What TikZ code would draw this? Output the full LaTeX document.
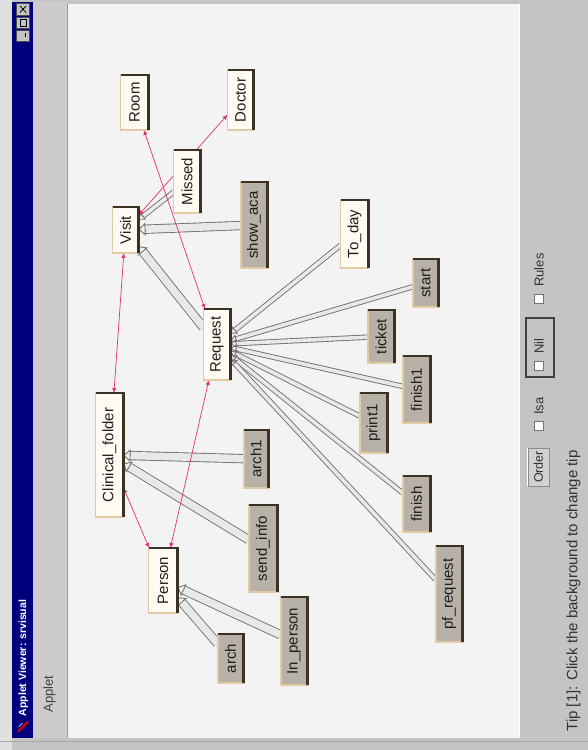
\documentclass[tikz,border=0pt]{standalone}
\usepackage{fontspec}
\setmainfont{Liberation Sans}
\usetikzlibrary{arrows.meta}

\definecolor{winbg}{HTML}{C4C4C4}
\definecolor{titlebar}{HTML}{00007F}
\definecolor{canvasbg}{HTML}{F3F3F3}
\definecolor{classfill}{HTML}{FFFBF2}
\definecolor{methfill}{HTML}{B7B1A8}
\definecolor{boxrim}{HTML}{E2CBA4}
\definecolor{rimdark}{HTML}{3A3222}
\definecolor{linkgray}{HTML}{727272}
\definecolor{linkfill}{HTML}{E9E9E9}
\definecolor{relred}{HTML}{E4336C}
\definecolor{labeltext}{HTML}{1E1E1E}

\pgfdeclarelayer{chrome}
\pgfdeclarelayer{links}
\pgfsetlayers{chrome,links,main}

\begin{document}
\begin{tikzpicture}[x=1pt,y=-1pt,
  box/.style={rotate=90, inner sep=0pt, outer sep=0pt, text=labeltext,
    font=\fontsize{15}{15}\selectfont},
  cls/.style={box, fill=classfill, draw=boxrim, line width=1.6pt},
  mth/.style={box, fill=methfill, draw=boxrim, line width=2pt},
  rim/.style={draw=rimdark, line width=2.4pt},
  isa/.style={draw=linkgray, line width=0.9pt, double=linkfill,
    double distance=3.6pt, -{Triangle[open,length=6pt,width=9pt]}},
  isawide/.style={isa, double distance=7.5pt,
    -{Triangle[open,length=7pt,width=13pt]}},
  rel/.style={draw=relred, line width=0.7pt,
    {Latex[length=5pt,width=4.5pt]}-{Latex[length=5pt,width=4.5pt]}},
  panellabel/.style={rotate=90, inner sep=0pt, text=black!80,
    font=\fontsize{13}{13}\selectfont},
  checkbox/.style={fill=white, draw=black!55, line width=0.8pt},
  winbtn/.style={fill=winbg, draw=black!70, line width=0.6pt}]

% ---------- window frame ----------
\begin{pgfonlayer}{chrome}
  \fill[winbg] (0,0) rectangle (587,750);
  \fill[black!12] (0,0) rectangle (12,750);
  \fill[titlebar] (12,2) rectangle (32,738);
  \fill[black!20] (32,2) rectangle (67,738);
  \fill[canvasbg] (67,4) rectangle (519,738);
  \draw[black!40, line width=0.8pt] (67,4) -- (67,738);
  \draw[white, line width=0.8pt] (519,4) -- (519,738);
  \draw[black!35, line width=1pt] (0,741) -- (587,741);
  % title bar buttons
  \draw[winbtn] (16,3.5) rectangle (29,15);
  \draw[black, line width=0.8pt] (19.5,6) -- (25.5,12.5) (25.5,6) -- (19.5,12.5);
  \draw[winbtn] (16,17) rectangle (29,28.5);
  \draw[black, line width=0.8pt] (19.5,19.5) rectangle (25.5,26);
  \draw[winbtn] (16,30) rectangle (29,41.5);
  \draw[black, line width=1.2pt] (25,33) -- (25,37);
  % application icon
  \draw[red!85!black, line width=2.2pt, line cap=round] (18,731) -- (27,722);
  \draw[white, line width=0.6pt] (18,727) -- (22,723);
\end{pgfonlayer}

\node[rotate=90, text=white, inner sep=0pt,
  font=\bfseries\fontsize{10.5}{10.5}\selectfont] (title) at (23,658)
  {Applet Viewer: srvisual};
\node[rotate=90, inner sep=0pt, text=black!75,
  font=\fontsize{13}{13}\selectfont] (menu) at (49,694) {Applet};

% ---------- control panel ----------
\node[rotate=90, fill=black!18, draw=black!45, line width=0.8pt,
  minimum width=38pt, minimum height=21pt, inner sep=0pt, text=black!80,
  font=\fontsize{12.5}{12.5}\selectfont] (order) at (538,467) {Order};
\draw[white, line width=0.8pt] (order.north west) -- (order.north east);
\node[panellabel] (isa) at (538.5,406) {Isa};
\draw[checkbox] (534,421) rectangle (543,430);
\draw[black!75, line width=2pt] (525,318) rectangle (553,377);
\node[panellabel] (nil) at (538.5,346) {Nil};
\draw[checkbox] (534,361) rectangle (543,370);
\node[panellabel] (rules) at (538.5,270) {Rules};
\draw[checkbox] (534,294) rectangle (543,303);
\node[rotate=90, inner sep=0pt, text=black!80,
  font=\fontsize{15}{15}\selectfont] (tip) at (573,591)
  {Tip [1]: Click the background to change tip};

% ---------- class nodes ----------
\node[cls, minimum width=55pt,  minimum height=28pt] (room)     at (134,102.5) {Room};
\node[cls, minimum width=60pt,  minimum height=26pt] (doctor)   at (240,100)   {Doctor};
\node[cls, minimum width=63pt,  minimum height=27pt] (missed)   at (186.5,181.5) {Missed};
\node[cls, minimum width=46pt,  minimum height=26pt] (visit)    at (125,230)   {Visit};
\node[cls, minimum width=71pt,  minimum height=27pt] (request)  at (216.5,344.5) {Request};
\node[cls, minimum width=68pt,  minimum height=28pt] (today)    at (354,234)   {To\_day};
\node[cls, minimum width=124pt, minimum height=28pt] (clinical) at (109,455)   {Clinical\_folder};
\node[cls, minimum width=65pt,  minimum height=29pt] (person)   at (162.5,580.5) {Person};

% ---------- method nodes ----------
\node[mth, minimum width=86pt, minimum height=27pt] (showaca)  at (253.5,225)   {show\_aca};
\node[mth, minimum width=48pt, minimum height=26pt] (start)    at (425,283)     {start};
\node[mth, minimum width=53pt, minimum height=27pt] (ticket)   at (380.5,336.5) {ticket};
\node[mth, minimum width=67pt, minimum height=28pt] (finishone) at (416,389.5)  {finish1};
\node[mth, minimum width=60pt, minimum height=28pt] (printone) at (373,423)     {print1};
\node[mth, minimum width=56pt, minimum height=28pt] (finish)   at (416,504)     {finish};
\node[mth, minimum width=96pt, minimum height=27pt] (pfrequest) at (448.5,594)  {pf\_request};
\node[mth, minimum width=58pt, minimum height=25pt] (archone)  at (255.5,459)   {arch1};
\node[mth, minimum width=87pt, minimum height=29pt] (sendinfo) at (262.5,548.5) {send\_info};
\node[mth, minimum width=49pt, minimum height=26pt] (arch)     at (230,658.5)   {arch};
\node[mth, minimum width=88pt, minimum height=27pt] (inperson) at (293.5,641)   {In\_person};

% dark shadow rim along the top and right sides of every box
\foreach \n in {room,doctor,missed,visit,request,today,clinical,person,
                showaca,start,ticket,finishone,printone,finish,pfrequest,
                archone,sendinfo,arch,inperson}
  \draw[rim] (\n.north east) -- (\n.south east) -- (\n.south west);

% ---------- connectors ----------
\begin{pgfonlayer}{links}
  \draw[isawide] (showaca) -- (visit);
  \draw[isa] (missed) -- (visit);
  \draw[isawide] (request) -- (visit);
  \draw[isa] (today) -- (request);
  \draw[isa] (start) -- (request);
  \draw[isa] (ticket) -- (request);
  \draw[isa] (finishone) -- (request);
  \draw[isa] (printone) -- (request);
  \draw[isa] (finish) -- (request);
  \draw[isa] (pfrequest) -- (request);
  \draw[isawide] (archone) -- (clinical);
  \draw[isawide] (sendinfo) -- (clinical);
  \draw[isawide] (inperson) -- (person);
  \draw[isawide] (arch) -- (person);

  \draw[rel] (visit) -- (doctor);
  \draw[rel] (room) -- (request);
  \draw[rel] (visit) -- (clinical);
  \draw[rel] (clinical) -- (person);
  \draw[rel] (request) -- (person);
\end{pgfonlayer}

\useasboundingbox (0,0) rectangle (587,750);
\end{tikzpicture}
\end{document}
